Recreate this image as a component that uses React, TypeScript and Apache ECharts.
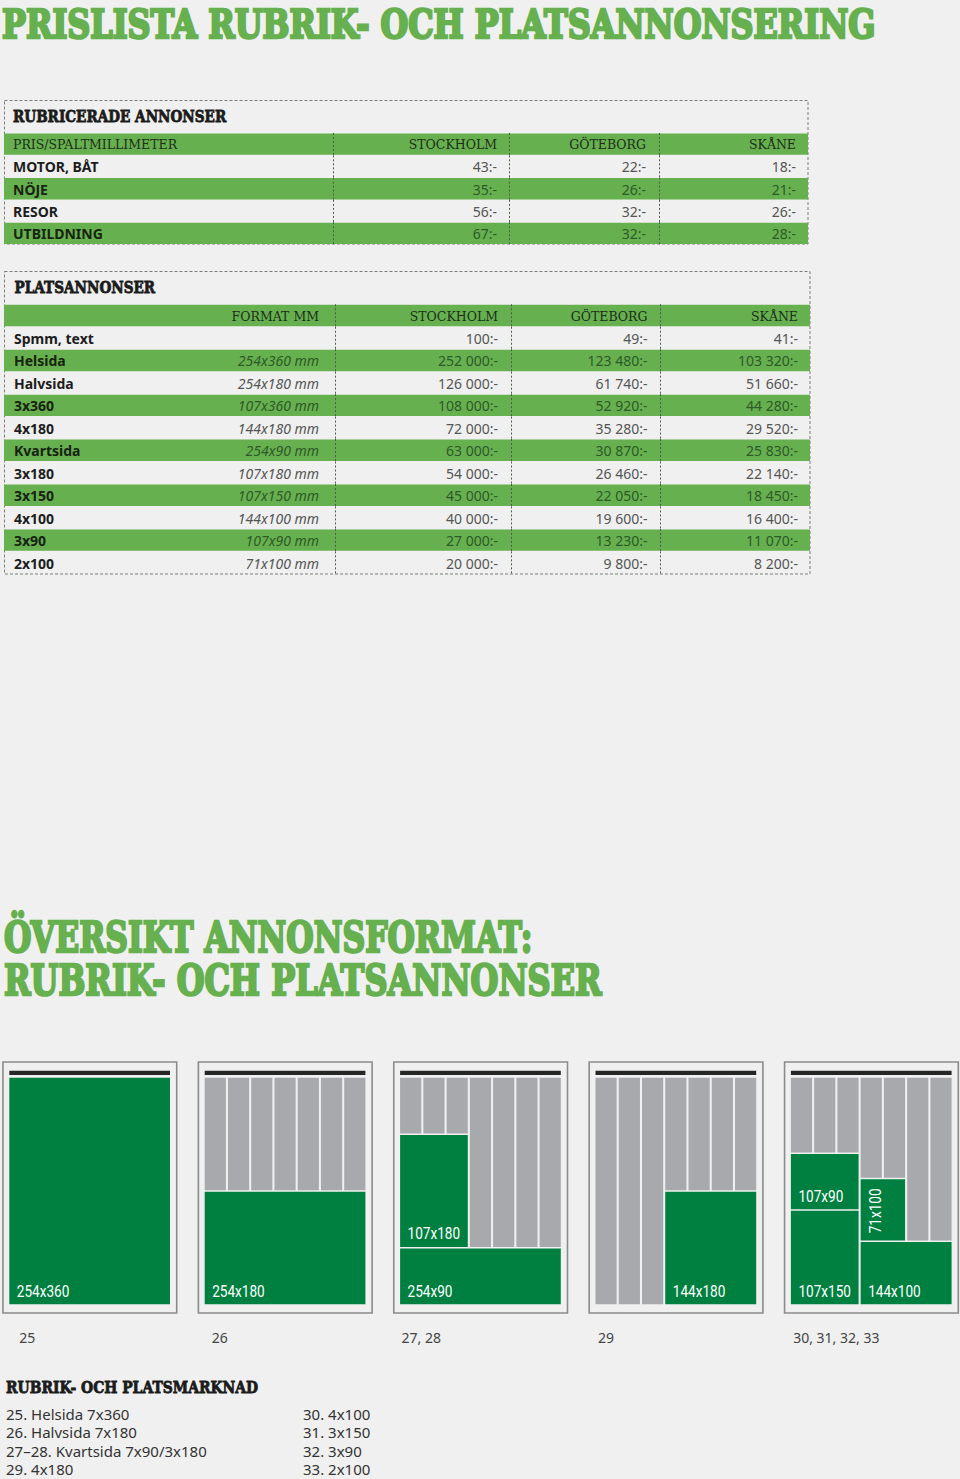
import React, { useEffect, useRef } from 'react';
import * as echarts from 'echarts';

// ---------- data ----------
const mainTitle = 'PRISLISTA RUBRIK- OCH PLATSANNONSERING';
const rubrikTitle = 'RUBRICERADE ANNONSER';
const rubrikHeader = ['PRIS/SPALTMILLIMETER', 'STOCKHOLM', 'GÖTEBORG', 'SKÅNE'];
const rubrikCategories = ['MOTOR, BÅT', 'NÖJE', 'RESOR', 'UTBILDNING'];
const rubrikStockholm = [43, 35, 56, 67];
const rubrikGoteborg = [22, 26, 32, 32];
const rubrikSkane = [18, 21, 26, 28];

const platsTitle = 'PLATSANNONSER';
const platsHeader = ['', 'FORMAT MM', 'STOCKHOLM', 'GÖTEBORG', 'SKÅNE'];
const platsCategories = ['Spmm, text', 'Helsida', 'Halvsida', '3x360', '4x180', 'Kvartsida', '3x180', '3x150', '4x100', '3x90', '2x100'];
const platsFormats = ['', '254x360 mm', '254x180 mm', '107x360 mm', '144x180 mm', '254x90 mm', '107x180 mm', '107x150 mm', '144x100 mm', '107x90 mm', '71x100 mm'];
const platsStockholm = [100, 252000, 126000, 108000, 72000, 63000, 54000, 45000, 40000, 27000, 20000];
const platsGoteborg = [49, 123480, 61740, 52920, 35280, 30870, 26460, 22050, 19600, 13230, 9800];
const platsSkane = [41, 103320, 51660, 44280, 29520, 25830, 22140, 18450, 16400, 11070, 8200];

const overviewTitle = ['ÖVERSIKT ANNONSFORMAT:', 'RUBRIK- OCH PLATSANNONSER'];
const pageNumbers = ['25', '26', '27, 28', '29', '30, 31, 32, 33'];
// ad formats per page: label, first column, end column, top mm, bottom mm (page 254 x 360 mm, 7 columns)
const pageAds = [
  [{ label: '254x360', c0: 0, c1: 7, top: 0, bottom: 360 }],
  [{ label: '254x180', c0: 0, c1: 7, top: 180, bottom: 360 }],
  [
    { label: '254x90', c0: 0, c1: 7, top: 270, bottom: 360 },
    { label: '107x180', c0: 0, c1: 3, top: 90, bottom: 270 },
  ],
  [{ label: '144x180', c0: 3, c1: 7, top: 180, bottom: 360 }],
  [
    { label: '107x150', c0: 0, c1: 3, top: 210, bottom: 360 },
    { label: '107x90', c0: 0, c1: 3, top: 120, bottom: 210 },
    { label: '144x100', c0: 3, c1: 7, top: 260, bottom: 360 },
    { label: '71x100', c0: 3, c1: 5, top: 160, bottom: 260, vertical: true },
  ],
];

const listTitle = 'RUBRIK- OCH PLATSMARKNAD';
const listLeft = ['25. Helsida 7x360', '26. Halvsida 7x180', '27–28. Kvartsida 7x90/3x180', '29. 4x180'];
const listRight = ['30. 4x100', '31. 3x150', '32. 3x90', '33. 2x100'];

// ---------- style ----------
const BG = '#eff0ef';
const GREEN = '#67b04f';
const AD_GREEN = '#008040';
const COL_GREY = '#a7a9ac';
const SANS = 'Noto Sans';
const SERIF = 'DejaVu Serif';
const PAGE_W = 254;
const PAGE_H = 360;
const COLS = 7;
const COL_W = 33.5;
const GUT = 3.25;
const VGAP = 1.2;

const fmt = (n: number) => String(n).replace(/\B(?=(\d{3})+(?!\d))/g, ' ') + ':-';

function measure(text: string, font: string): number {
  const c = document.createElement('canvas');
  const ctx = c.getContext('2d') as CanvasRenderingContext2D;
  ctx.font = font;
  return ctx.measureText(text).width || 1;
}

// heavy slab heading squeezed to the reference width; natural width is kept below the target
function fitText(text: string, x: number, y: number, width: number, size: number, color: string, stroke: number) {
  const wFull = measure(text, `bold ${size}px "${SERIF}"`);
  const s0 = wFull > width ? Math.floor(size * (width / wFull) * 0.98 * 10) / 10 : size;
  const w0 = measure(text, `bold ${s0}px "${SERIF}"`);
  const scaleY = size / s0;
  return {
    type: 'text',
    x,
    y,
    scaleX: (width - stroke) / w0,
    scaleY,
    style: {
      text,
      fill: color,
      stroke: color,
      lineWidth: stroke / scaleY,
      fontSize: s0,
      fontFamily: SERIF,
      fontWeight: 'bold',
      align: 'left',
      verticalAlign: 'middle',
    },
  };
}

type Col = { x: number; align: 'left' | 'right'; kind: 'label' | 'format' | 'value' };

function tableSeries(gridIndex: number, width: number, rows: string[][], cols: Col[], seps: number[]) {
  return {
    type: 'custom',
    xAxisIndex: gridIndex,
    yAxisIndex: gridIndex,
    encode: { x: 0, y: 1 },
    data: rows.map((_, i) => [0, i]),
    renderItem: (params: any, api: any) => {
      const r = api.value(1) as number;
      const [xL, yc] = api.coord([0, r]);
      const xR = api.coord([width, r])[0];
      const h = api.size([0, 1])[1];
      const top = yc - h / 2;
      const green = r % 2 === 0;
      const children: any[] = [];
      if (green) {
        children.push({ type: 'rect', shape: { x: xL, y: top + 0.5, width: xR - xL, height: h - 1 }, style: { fill: GREEN } });
      }
      seps.forEach((s) => {
        const sx = Math.round(api.coord([s, r])[0]) + 0.5;
        children.push({ type: 'line', shape: { x1: sx, y1: top, x2: sx, y2: top + h }, style: { stroke: '#4d5a4d', lineWidth: 1, lineDash: [2, 2] } });
      });
      rows[r].forEach((text, c) => {
        if (!text) return;
        const spec = cols[c];
        const x = api.coord([spec.x, r])[0];
        let style: any;
        if (r === 0) {
          style = { fontFamily: SERIF, fontSize: 12.5, fill: '#1c2e1a' };
        } else if (spec.kind === 'label') {
          style = { fontFamily: SANS, fontSize: 14, fontWeight: 'bold', fill: green ? '#17230f' : '#1d1d1d' };
        } else if (spec.kind === 'format') {
          style = { fontFamily: SANS, fontSize: 14, fontStyle: 'italic', fill: green ? '#2d5a28' : '#555555' };
        } else {
          style = { fontFamily: SANS, fontSize: 14, fill: green ? '#2d5a28' : '#555555' };
        }
        children.push({
          type: 'text',
          x,
          y: yc + 0.5,
          style: { ...style, text, align: spec.align, verticalAlign: 'middle' },
        });
      });
      return { type: 'group', children };
    },
  };
}

type Item = { kind: string; x0: number; y0: number; x1: number; y1: number; label?: string; vertical?: boolean };

function pageItems(ads: typeof pageAds[number]): Item[] {
  const items: Item[] = [];
  items.push({ kind: 'frame', x0: -10, y0: -25, x1: PAGE_W + 10.6, y1: PAGE_H + 13.8 });
  items.push({ kind: 'bar', x0: 0, y0: -11.2, x1: PAGE_W, y1: -4.4 });
  for (let i = 0; i < COLS; i++) {
    let minTop = PAGE_H;
    ads.forEach((a) => {
      if (i >= a.c0 && i < a.c1) minTop = Math.min(minTop, a.top);
    });
    if (minTop > 0) {
      const x0 = i * (COL_W + GUT);
      items.push({ kind: 'col', x0, y0: 0, x1: x0 + COL_W, y1: minTop < PAGE_H ? minTop - VGAP : PAGE_H });
    }
  }
  ads.forEach((a: any) => {
    items.push({
      kind: 'ad',
      x0: a.c0 * (COL_W + GUT),
      x1: a.c1 * (COL_W + GUT) - GUT,
      y0: a.top > 0 ? a.top + VGAP : a.top,
      y1: a.bottom < PAGE_H ? a.bottom - VGAP : a.bottom,
      label: a.label,
      vertical: !!a.vertical,
    });
  });
  return items;
}

function pageSeries(k: number) {
  const items = pageItems(pageAds[k]);
  return {
    type: 'custom',
    xAxisIndex: k + 2,
    yAxisIndex: k + 2,
    encode: { x: [0, 2], y: [1, 3] },
    data: items.map((it) => [it.x0, it.y0, it.x1, it.y1]),
    renderItem: (params: any, api: any) => {
      const it = items[params.dataIndex];
      const p0 = api.coord([api.value(0), api.value(1)]);
      const p1 = api.coord([api.value(2), api.value(3)]);
      const shape = { x: p0[0], y: p0[1], width: p1[0] - p0[0], height: p1[1] - p0[1] };
      if (it.kind === 'frame') {
        return { type: 'rect', shape, style: { fill: BG, stroke: '#8a8c8b', lineWidth: 1.6 } };
      }
      if (it.kind === 'bar') {
        return { type: 'rect', shape, style: { fill: '#262626' } };
      }
      if (it.kind === 'col') {
        return { type: 'rect', shape, style: { fill: COL_GREY } };
      }
      const children: any[] = [{ type: 'rect', shape, style: { fill: AD_GREEN } }];
      const txtStyle = { text: it.label, fill: '#ffffff', fontFamily: 'Roboto', fontSize: 16 };
      if (it.vertical) {
        children.push({
          type: 'text',
          x: shape.x + 14.5,
          y: shape.y + shape.height / 2 + 1,
          rotation: Math.PI / 2,
          scaleX: 0.85,
          style: { ...txtStyle, align: 'center', verticalAlign: 'middle' },
        });
      } else {
        children.push({
          type: 'text',
          x: shape.x + 7.5,
          y: shape.y + shape.height - 13,
          scaleX: 0.85,
          style: { ...txtStyle, align: 'left', verticalAlign: 'middle' },
        });
      }
      return { type: 'group', children };
    },
  };
}

function buildOption() {
  const t1Rows = [rubrikHeader, ...rubrikCategories.map((c, i) => [c, fmt(rubrikStockholm[i]), fmt(rubrikGoteborg[i]), fmt(rubrikSkane[i])])];
  const t2Rows = [
    platsHeader,
    ...platsCategories.map((c, i) => [c, platsFormats[i], fmt(platsStockholm[i]), fmt(platsGoteborg[i]), fmt(platsSkane[i])]),
  ];
  const t1Cols: Col[] = [
    { x: 9, align: 'left', kind: 'label' },
    { x: 493, align: 'right', kind: 'value' },
    { x: 642, align: 'right', kind: 'value' },
    { x: 792, align: 'right', kind: 'value' },
  ];
  const t2Cols: Col[] = [
    { x: 10, align: 'left', kind: 'label' },
    { x: 315, align: 'right', kind: 'format' },
    { x: 494, align: 'right', kind: 'value' },
    { x: 643.5, align: 'right', kind: 'value' },
    { x: 794, align: 'right', kind: 'value' },
  ];

  const pageLeft = (k: number) => 9.3 + 195.4 * k;
  const pageNumOffset = [10, 7, 1.5, 2.5, 2.3];

  const grids: any[] = [
    { left: 4, top: 133, width: 804, height: 111.5 },
    { left: 4, top: 304.3, width: 806, height: 269.5 },
    ...pageAds.map((_, k) => ({ left: pageLeft(k), top: 1077.7, width: 160.7, height: 226.6 })),
  ];
  const xAxes: any[] = [
    { gridIndex: 0, type: 'value', min: 0, max: 804, show: false },
    { gridIndex: 1, type: 'value', min: 0, max: 806, show: false },
    ...pageAds.map((_, k) => ({ gridIndex: k + 2, type: 'value', min: 0, max: PAGE_W, show: false })),
  ];
  const yAxes: any[] = [
    { gridIndex: 0, type: 'category', data: ['header', ...rubrikCategories], inverse: true, show: false },
    { gridIndex: 1, type: 'category', data: ['header', ...platsCategories], inverse: true, show: false },
    ...pageAds.map((_, k) => ({ gridIndex: k + 2, type: 'value', min: 0, max: PAGE_H, inverse: true, show: false })),
  ];

  const dashed = { stroke: '#7a7f7a', lineWidth: 1, lineDash: [3, 2], fill: 'none' };
  const graphic: any[] = [
    fitText(mainTitle, 2, 24, 876, 39, GREEN, 2.6),
    { type: 'rect', shape: { x: 4.5, y: 100.5, width: 803.5, height: 143.5 }, style: dashed },
    fitText(rubrikTitle, 13, 116.5, 214, 16.5, '#1b1b1b', 0.8),
    { type: 'rect', shape: { x: 4.5, y: 271.5, width: 805.5, height: 302.5 }, style: dashed },
    fitText(platsTitle, 14.5, 288, 141.5, 16.5, '#1b1b1b', 0.8),
    fitText(overviewTitle[0], 4, 937, 531, 43, GREEN, 2.6),
    fitText(overviewTitle[1], 4, 980, 600, 43, GREEN, 2.6),
    ...pageNumbers.map((t, k) => ({
      type: 'text',
      x: pageLeft(k) + pageNumOffset[k],
      y: 1337,
      style: { text: t, fill: '#444444', fontFamily: SANS, fontSize: 14, align: 'left', verticalAlign: 'middle' },
    })),
    fitText(listTitle, 6, 1388, 253, 16, '#1b1b1b', 0.8),
    ...listLeft.map((t, i) => ({
      type: 'text',
      x: 6,
      y: 1413.5 + i * 18.6,
      style: { text: t, fill: '#333333', fontFamily: SANS, fontSize: 15, align: 'left', verticalAlign: 'middle' },
    })),
    ...listRight.map((t, i) => ({
      type: 'text',
      x: 303,
      y: 1413.5 + i * 18.6,
      style: { text: t, fill: '#333333', fontFamily: SANS, fontSize: 15, align: 'left', verticalAlign: 'middle' },
    })),
  ];

  return {
    animation: false,
    backgroundColor: BG,
    grid: grids,
    xAxis: xAxes,
    yAxis: yAxes,
    graphic,
    series: [
      tableSeries(0, 804, t1Rows, t1Cols, [329, 505, 655]),
      tableSeries(1, 806, t2Rows, t2Cols, [331, 506.7, 656]),
      ...pageAds.map((_, k) => pageSeries(k)),
    ],
  };
}

export default function App() {
  const ref = useRef<HTMLDivElement>(null);
  useEffect(() => {
    if (!ref.current) return;
    document.body.style.background = BG;
    const chart = echarts.init(ref.current, undefined, { renderer: 'svg' });
    chart.setOption(buildOption() as any);
    return () => chart.dispose();
  }, []);
  return <div ref={ref} style={{ position: 'absolute', left: 0, top: 0, width: 960, height: 1479 }} />;
}
